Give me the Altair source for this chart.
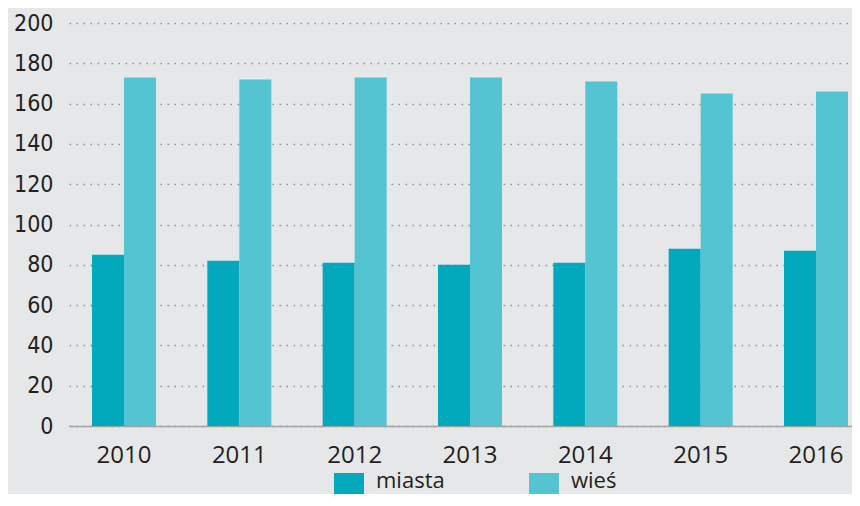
import altair as alt
import pandas as pd

years = ["2010", "2011", "2012", "2013", "2014", "2015", "2016"]
miasta = [85, 82, 81, 80, 81, 88, 87]
wies = [173, 172, 173, 173, 171, 165, 166]
series = ["miasta", "wieś"]
colors = ["#02a8bb", "#54c4d3"]
y_ticks = [0, 20, 40, 60, 80, 100, 120, 140, 160, 180, 200]
title_text = "BIBLIOTEKI PUBLICZNE I FILIE"

rows = []
for i, yr in enumerate(years):
    rows.append({"rok": yr, "typ": series[0], "wartosc": miasta[i]})
    rows.append({"rok": yr, "typ": series[1], "wartosc": wies[i]})
df = pd.DataFrame(rows)

chart = (
    alt.Chart(df)
    .mark_bar()
    .encode(
        x=alt.X(
            "rok:N",
            sort=years,
            title=None,
            scale=alt.Scale(paddingInner=0.445, paddingOuter=0.117, align=0.852),
            axis=alt.Axis(
                labelAngle=0,
                ticks=False,
                labelPadding=17,
                labelFont="Open Sans",
                labelFontSize=24,
                labelColor="#231f20",
                domainColor="#a3a3a3",
                domainWidth=1.5,
                grid=False,
            ),
        ),
        xOffset=alt.XOffset(
            "typ:N", sort=series, scale=alt.Scale(paddingInner=0, paddingOuter=0)
        ),
        y=alt.Y(
            "wartosc:Q",
            title=None,
            scale=alt.Scale(domain=[0, 200], nice=False),
            axis=alt.Axis(
                values=y_ticks,
                ticks=False,
                domain=False,
                labelPadding=16,
                labelFont="DejaVu Sans Condensed",
                labelFontSize=23,
                labelColor="#231f20",
                grid=True,
                gridColor="#8f8f8f",
                gridDash=[1.5, 5.5],
                gridWidth=1.5,
            ),
        ),
        color=alt.Color(
            "typ:N",
            sort=series,
            scale=alt.Scale(domain=series, range=colors),
            legend=alt.Legend(
                title=None,
                orient="none",
                legendX=265,
                legendY=450,
                direction="horizontal",
                columns=2,
                columnPadding=84,
                padding=0,
                symbolType="square",
                symbolSize=900,
                symbolStrokeWidth=0,
                symbolOpacity=1,
                labelFont="Open Sans",
                labelFontSize=22,
                labelColor="#231f20",
                labelOffset=12,
                labelBaseline="alphabetic",
            ),
        ),
    )
    .properties(
        width=783,
        height=403,
        title=alt.TitleParams(
            title_text,
            font="DejaVu Sans Condensed",
            fontSize=30,
            fontWeight="normal",
            color="#231f20",
            anchor="middle",
            baseline="alphabetic",
            offset=13,
            dx=-20,
        ),
        padding={"left": 61, "top": 15, "right": 0, "bottom": 68},
        autosize=alt.AutoSizeParams(type="none"),
        background="#e6e7e9",
    )
    .configure_view(stroke=None)
)

chart.save("out.html", embed_options={"renderer": "svg", "actions": False})
